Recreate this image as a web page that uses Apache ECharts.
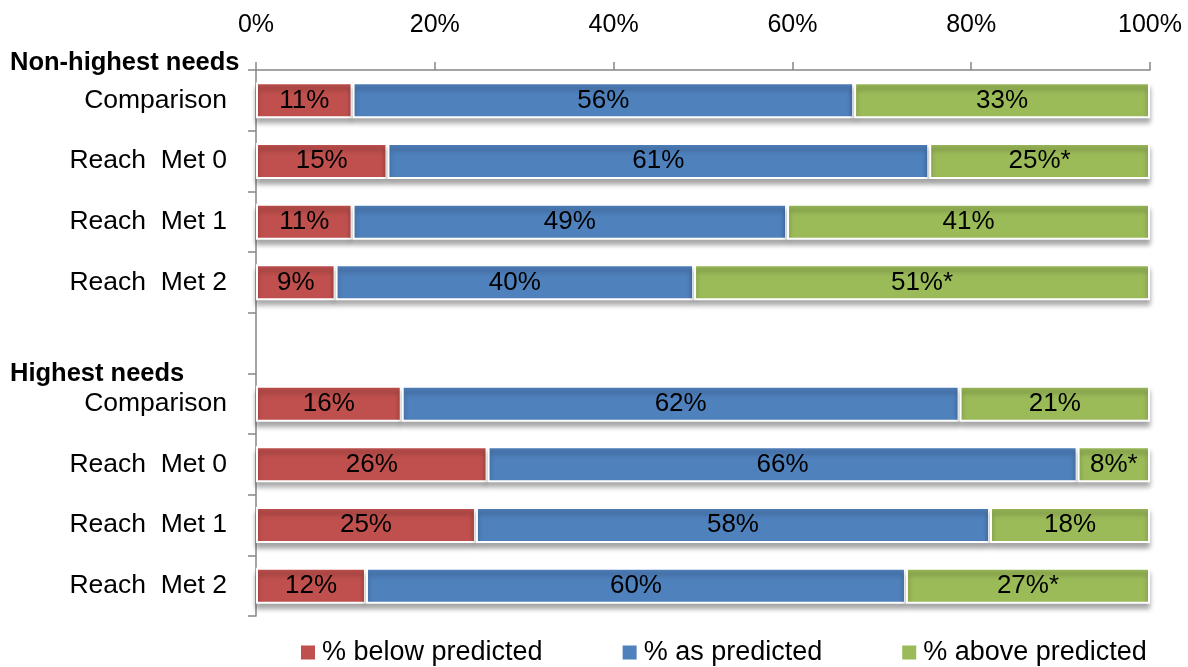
<!DOCTYPE html>
<html>
<head>
<meta charset="utf-8">
<title>Predicted outcomes by group</title>
<script src="https://cdn.jsdelivr.net/npm/echarts@6/dist/echarts.min.js"></script>
<style>
  html, body { margin: 0; padding: 0; background: #ffffff; }
  #chart { width: 1188px; height: 667px; }
</style>
</head>
<body>
<div id="chart"></div>
<script>
// Rows top to bottom; the blank entry separates the two groups.
const categories = [
  'Comparison', 'Reach  Met 0', 'Reach  Met 1', 'Reach  Met 2', '',
  'Comparison', 'Reach  Met 0', 'Reach  Met 1', 'Reach  Met 2'
];
const groupHeaders = ['Non-highest needs', 'Highest needs'];

// Shares of students (percent) in each outcome band.
const belowPredicted = [10.8, 14.7, 10.8, 8.9, null, 16.3, 25.9, 24.6, 12.3];
const asPredicted    = [56.1, 60.6, 48.6, 40.1, null, 62.4, 66.0, 57.5, 60.4];
const abovePredicted = [33.1, 24.7, 40.6, 51.0, null, 21.3, 8.1, 17.9, 27.3];

// Rows whose "above predicted" share is marked as significant.
const aboveSignificant = [false, true, false, true, false, false, true, false, true];

const seriesNames = ['% below predicted', '% as predicted', '% above predicted'];
const seriesColors = ['#C0504D', '#4F81BD', '#9BBB59'];
const axisTicks = [0, 20, 40, 60, 80, 100];

const FONT = 'Liberation Sans';
const AXIS_GRAY = '#868686';

function makeSeries(name, values, color, flags) {
  return {
    name: name,
    type: 'bar',
    stack: 'total',
    barWidth: 36,
    data: values,
    itemStyle: {
      color: color,
      borderColor: '#ffffff',
      borderWidth: 2,
      shadowColor: 'rgba(0,0,0,0.35)',
      shadowBlur: 5,
      shadowOffsetY: 5
    },
    label: {
      show: true,
      position: 'inside',
      color: '#000000',
      fontFamily: FONT,
      fontSize: 26,
      formatter: function (p) {
        const star = flags && flags[p.dataIndex] ? '*' : '';
        return Math.round(p.value) + '%' + star;
      }
    },
    emphasis: { disabled: true }
  };
}

const chart = echarts.init(document.getElementById('chart'), null, { renderer: 'canvas' });

chart.setOption({
  backgroundColor: '#ffffff',
  animation: false,
  textStyle: { fontFamily: FONT },
  grid: { left: 256, right: 38, top: 70, bottom: 51, containLabel: false },
  legend: {
    data: seriesNames,
    left: 301,
    top: 639,
    padding: 0,
    icon: 'rect',
    itemWidth: 14,
    itemHeight: 14,
    itemGap: 80,
    itemStyle: { borderWidth: 0, shadowBlur: 0, shadowOffsetY: 0 },
    textStyle: { fontFamily: FONT, fontSize: 27, color: '#000000', padding: [0, 0, 0, 2] }
  },
  xAxis: {
    type: 'value',
    position: 'top',
    min: axisTicks[0],
    max: axisTicks[axisTicks.length - 1],
    interval: axisTicks[1] - axisTicks[0],
    axisLine: { show: true, lineStyle: { color: AXIS_GRAY, width: 1.5 } },
    axisTick: { show: true, length: 8, lineStyle: { color: AXIS_GRAY, width: 1.5 } },
    splitLine: { show: false },
    axisLabel: {
      margin: 32,
      color: '#000000',
      fontFamily: FONT,
      fontSize: 25,
      formatter: '{value}%'
    }
  },
  yAxis: {
    type: 'category',
    inverse: true,
    data: categories,
    axisLine: { show: true, lineStyle: { color: AXIS_GRAY, width: 1.5 } },
    axisTick: { show: true, length: 8, lineStyle: { color: AXIS_GRAY, width: 1.5 } },
    splitLine: { show: false },
    axisLabel: {
      margin: 29,
      color: '#000000',
      fontFamily: FONT,
      fontSize: 26.5
    }
  },
  graphic: [
    {
      type: 'text',
      left: 10,
      top: 50,
      style: { text: groupHeaders[0], fontFamily: FONT, fontSize: 25.5, fontWeight: 'bold', fill: '#000000' }
    },
    {
      type: 'text',
      left: 10,
      top: 361,
      style: { text: groupHeaders[1], fontFamily: FONT, fontSize: 25.5, fontWeight: 'bold', fill: '#000000' }
    }
  ],
  series: [
    makeSeries(seriesNames[0], belowPredicted, seriesColors[0], null),
    makeSeries(seriesNames[1], asPredicted, seriesColors[1], null),
    makeSeries(seriesNames[2], abovePredicted, seriesColors[2], aboveSignificant)
  ]
});
</script>
</body>
</html>
